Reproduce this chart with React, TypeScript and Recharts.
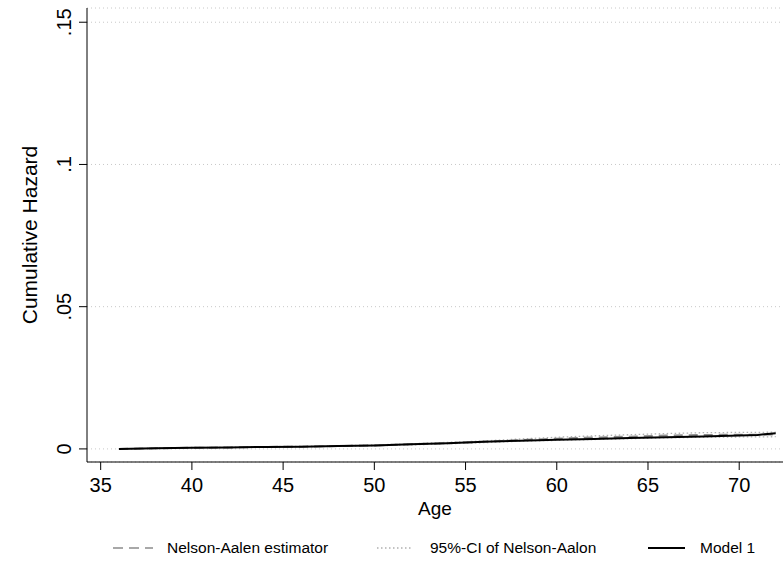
import { LineChart, Line, XAxis, YAxis, CartesianGrid } from 'recharts'

const ages = [36, 38, 40, 42, 44, 46, 48, 50, 52, 54, 56, 58, 60, 62, 64, 66, 68, 70, 71, 72]
const nelsonAalen = [0, 0.0002, 0.0004, 0.0005, 0.0007, 0.0008, 0.001, 0.0012, 0.0016, 0.002, 0.0025, 0.0031, 0.0036, 0.004, 0.0043, 0.0047, 0.0049, 0.005, 0.005, 0.0051]
const ciLower = [0, 0.0001, 0.0003, 0.0004, 0.0006, 0.0007, 0.0009, 0.0011, 0.0014, 0.0018, 0.0022, 0.0027, 0.003, 0.0033, 0.0036, 0.0039, 0.0041, 0.0042, 0.0042, 0.0043]
const ciUpper = [0, 0.0003, 0.0005, 0.0006, 0.0008, 0.0009, 0.0011, 0.0014, 0.0018, 0.0023, 0.0028, 0.0035, 0.0041, 0.0046, 0.005, 0.0054, 0.0057, 0.0058, 0.0058, 0.0059]
const model1 = [0, 0.0002, 0.0004, 0.0005, 0.0007, 0.0008, 0.001, 0.0012, 0.0016, 0.002, 0.0025, 0.0029, 0.0032, 0.0035, 0.0038, 0.0041, 0.0044, 0.0047, 0.0049, 0.0055]

const xTicks = [35, 40, 45, 50, 55, 60, 65, 70]
const yTicks = [0, 0.05, 0.1, 0.15]
const yTickLabels = ['0', '.05', '.1', '.15']

const legendItems = [
  { label: 'Nelson-Aalen estimator', stroke: '#8c8c8c', dash: '10 6' },
  { label: '95%-CI of Nelson-Aalon', stroke: '#b0b0b0', dash: '1.5 2.5' },
  { label: 'Model 1', stroke: '#000', dash: undefined },
]

const data = ages.map((age, i) => ({
  age,
  na: nelsonAalen[i],
  lo: ciLower[i],
  hi: ciUpper[i],
  model: model1[i],
}))

const font = '"Liberation Sans", Arial, sans-serif'

function YTick({ x, y, payload }: any) {
  const i = yTicks.indexOf(payload.value)
  const bx = x - 6
  return (
    <text
      x={bx}
      y={y}
      transform={`rotate(-90 ${bx} ${y})`}
      textAnchor="middle"
      fontSize={20}
      fontFamily={font}
      fill="#000"
    >
      {i >= 0 ? yTickLabels[i] : payload.value}
    </text>
  )
}

// legend sits under the plot, same as the stata export
function LegendRow() {
  const x1 = [113, 377, 648]
  const x2 = [153, 413, 685]
  const tx = [167, 430, 700]
  return (
    <svg width={783} height={24} style={{ position: 'absolute', left: 0, top: 536 }}>
      {legendItems.map((it, i) => (
        <g key={it.label}>
          <line
            x1={x1[i]}
            x2={x2[i]}
            y1={12}
            y2={12}
            stroke={it.stroke}
            strokeWidth={it.dash ? 1.5 : 2}
            strokeDasharray={it.dash}
          />
          <text x={tx[i]} y={17} fontSize={15.5} fontFamily={font} fill="#000">
            {it.label}
          </text>
        </g>
      ))}
    </svg>
  )
}

export default function App() {
  return (
    <div style={{ position: 'absolute', left: 0, top: 0, width: 783, height: 561, background: '#fff' }}>
      <LineChart width={783} height={561} data={data} margin={{ top: 8, right: 0, bottom: 69, left: 0 }}>
        <CartesianGrid horizontal vertical={false} stroke="#c8c8c8" strokeDasharray="1 3" />
        <XAxis
          dataKey="age"
          type="number"
          domain={[34.25, 72.4]}
          ticks={xTicks}
          allowDataOverflow
          stroke="#000"
          tickSize={8}
          tick={{ fontSize: 20, fontFamily: font, fill: '#000', dy: 6 }}
          label={{
            value: 'Age',
            position: 'insideBottom',
            offset: -23,
            style: { fontSize: 19, fontFamily: font, fill: '#000' },
          }}
        />
        <YAxis
          type="number"
          domain={[-0.0046, 0.155]}
          ticks={yTicks}
          allowDataOverflow
          width={87}
          stroke="#000"
          tickSize={8}
          tick={<YTick />}
          label={{
            value: 'Cumulative Hazard',
            angle: -90,
            position: 'insideLeft',
            offset: 0,
            dx: 30,
            style: { fontSize: 21, fontFamily: font, fill: '#000', textAnchor: 'middle' },
          }}
        />
        <Line dataKey="lo" stroke="#b0b0b0" strokeWidth={1.3} strokeDasharray="1.5 2.5" dot={false} isAnimationActive={false} />
        <Line dataKey="hi" stroke="#b0b0b0" strokeWidth={1.3} strokeDasharray="1.5 2.5" dot={false} isAnimationActive={false} />
        <Line dataKey="na" stroke="#8c8c8c" strokeWidth={2} strokeDasharray="9 6" dot={false} isAnimationActive={false} />
        <Line dataKey="model" stroke="#000" strokeWidth={2} dot={false} isAnimationActive={false} />
      </LineChart>
      <LegendRow />
    </div>
  )
}
